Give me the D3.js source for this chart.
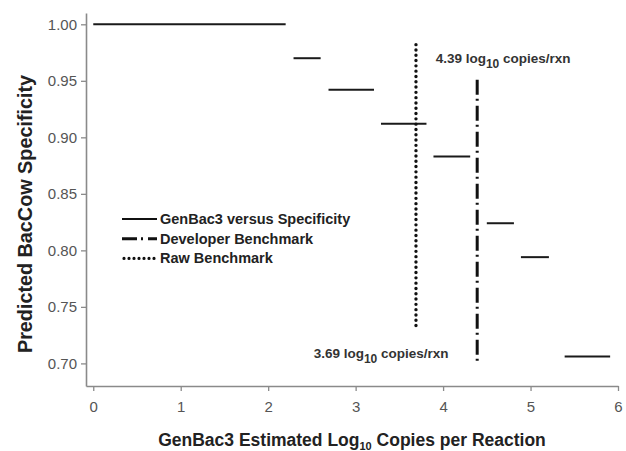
<html>
<head>
  <script src="https://d3js.org/d3.v7.min.js"></script>
  <style>
    body { margin: 0; background: #fff; }
    text { font-family: "Liberation Sans", Arial, sans-serif; }
  </style>
</head>
<body>
  <script>
    // step segments
    let stepStart = [0, 2.29, 2.69, 3.29, 3.89, 4.50, 4.89, 5.39];
    let stepEnd = [2.20, 2.60, 3.21, 3.81, 4.31, 4.81, 5.21, 5.91];
    let specificity = [1.00, 0.970, 0.942, 0.912, 0.883, 0.824, 0.794, 0.706];

    // benchmark lines
    let benchNames = ["Raw Benchmark", "Developer Benchmark"];
    let benchX = [3.69, 4.39];
    let benchTop = [0.982, 0.951];
    let benchBottom = [0.732, 0.701];

    let xTicks = [0, 1, 2, 3, 4, 5, 6];
    let yTicks = [0.70, 0.75, 0.80, 0.85, 0.90, 0.95, 1.00];

    let width = 626;
    let height = 451;

    let svg = d3.select("body")
      .append("svg")
      .attr("width", width)
      .attr("height", height);

    let x = d3.scaleLinear().domain([-0.083, 6]).range([86, 618]);
    let y = d3.scaleLinear().domain([0.68, 1.01]).range([386, 13]);

    // axes
    let xAxis = svg.append("g")
      .attr("transform", "translate(0," + y(0.68) + ")")
      .call(d3.axisBottom(x).tickValues(xTicks).tickFormat(d3.format("d"))
        .tickSize(5).tickPadding(10).tickSizeOuter(0));
    let yAxis = svg.append("g")
      .attr("transform", "translate(" + x(-0.083) + ",0)")
      .call(d3.axisLeft(y).tickValues(yTicks).tickFormat(d3.format(".2f"))
        .tickSize(5).tickPadding(4).tickSizeOuter(0));

    [xAxis, yAxis].forEach(function(a) {
      a.select(".domain").attr("stroke", "#8a8a8a").attr("stroke-width", 1.6);
      a.selectAll(".tick line").attr("stroke", "#8a8a8a").attr("stroke-width", 1.3);
      a.selectAll(".tick text").attr("fill", "#555").style("font-size", "15px");
    });

    // step segments
    let steps = d3.range(specificity.length);
    svg.append("g").selectAll("line")
      .data(steps)
      .enter()
      .append("line")
      .attr("x1", function(i) { return x(stepStart[i]); })
      .attr("x2", function(i) { return x(stepEnd[i]); })
      .attr("y1", function(i) { return y(specificity[i]); })
      .attr("y2", function(i) { return y(specificity[i]); })
      .attr("stroke", "#1a1a1a")
      .attr("stroke-width", 2);

    // benchmarks
    let dashes = ["0,5.3", "15,4,2,5"];
    let caps = ["round", "butt"];
    svg.append("g").selectAll("line")
      .data([0, 1])
      .enter()
      .append("line")
      .attr("x1", function(i) { return x(benchX[i]); })
      .attr("x2", function(i) { return x(benchX[i]); })
      .attr("y1", function(i) { return y(benchTop[i]); })
      .attr("y2", function(i) { return y(benchBottom[i]); })
      .attr("stroke", "#111")
      .attr("stroke-width", function(i) { return i == 0 ? 3.4 : 3; })
      .attr("stroke-linecap", function(i) { return caps[i]; })
      .attr("stroke-dasharray", function(i) { return dashes[i]; });

    // annotations
    function annotate(val, xv, yv) {
      let t = svg.append("text")
        .attr("x", x(xv))
        .attr("y", y(yv))
        .attr("fill", "#333")
        .style("font-size", "13.5px")
        .style("font-weight", "bold");
      t.append("tspan").text(val + " log");
      t.append("tspan").attr("dy", 5).style("font-size", "12px").text("10");
      t.append("tspan").attr("dy", -5).text(" copies/rxn");
    }
    annotate("4.39", 3.915, 0.966);
    annotate("3.69", 2.52, 0.705);

    // legend
    let legendNames = ["GenBac3 versus Specificity", "Developer Benchmark", "Raw Benchmark"];
    let legendDash = [null, "15,4,2,5", "0,5"];
    let legendWidth = [2, 3, 3.2];
    let legendCap = ["butt", "butt", "round"];
    let legend = svg.append("g").attr("transform", "translate(122,219)");
    legendNames.forEach(function(name, i) {
      legend.append("line")
        .attr("x1", i == 2 ? 2 : 0).attr("x2", 35)
        .attr("y1", i * 19.7).attr("y2", i * 19.7)
        .attr("stroke", "#111")
        .attr("stroke-width", legendWidth[i])
        .attr("stroke-linecap", legendCap[i])
        .attr("stroke-dasharray", legendDash[i]);
      legend.append("text")
        .attr("x", 38).attr("y", i * 19.7 + 5)
        .attr("fill", "#222")
        .style("font-size", "14.5px")
        .style("font-weight", "bold")
        .text(name);
    });

    // axis titles
    let xt = svg.append("text")
      .attr("x", 352).attr("y", 446)
      .attr("text-anchor", "middle")
      .attr("fill", "#222")
      .style("font-size", "17.5px")
      .style("font-weight", "bold");
    xt.append("tspan").text("GenBac3 Estimated Log");
    xt.append("tspan").attr("dy", 4).style("font-size", "11px").text("10");
    xt.append("tspan").attr("dy", -4).text(" Copies per Reaction");

    svg.append("text")
      .attr("transform", "translate(32,214) rotate(-90)")
      .attr("text-anchor", "middle")
      .attr("fill", "#222")
      .style("font-size", "19.8px")
      .style("font-weight", "bold")
      .text("Predicted BacCow Specificity");
  </script>
</body>
</html>
